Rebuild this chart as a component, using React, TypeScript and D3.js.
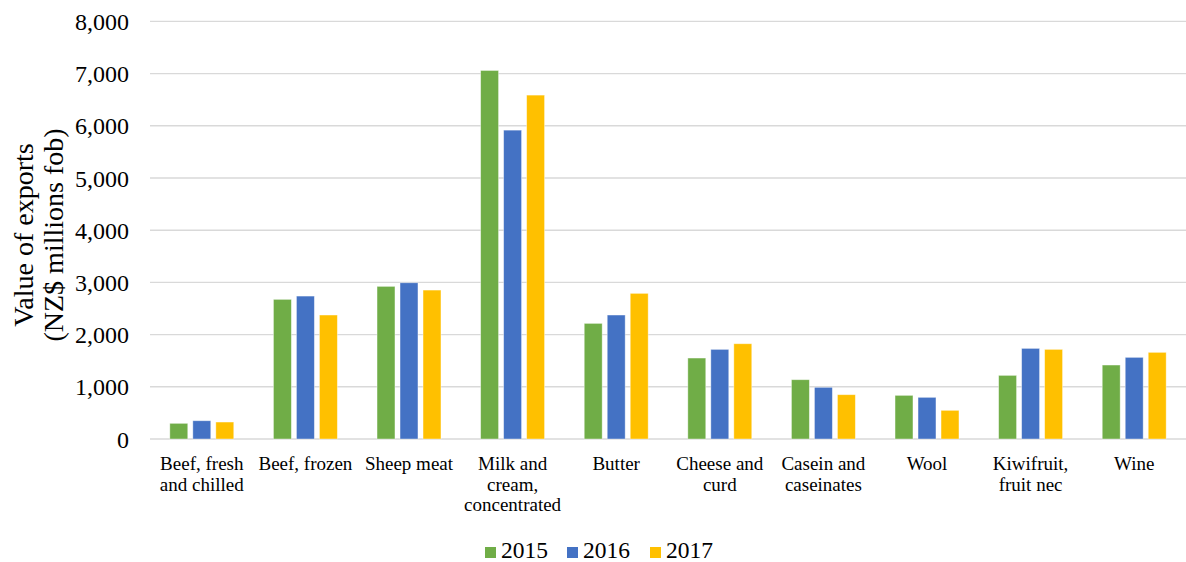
import React, { useEffect, useRef } from "react";
import * as d3 from "d3";

const categories = [
  "Beef, fresh and chilled",
  "Beef, frozen",
  "Sheep meat",
  "Milk and cream, concentrated",
  "Butter",
  "Cheese and curd",
  "Casein and caseinates",
  "Wool",
  "Kiwifruit, fruit nec",
  "Wine",
];
const seriesNames = ["2015", "2016", "2017"];
const values2015 = [300, 2675, 2924, 7060, 2215, 1551, 1136, 836, 1219, 1417];
const values2016 = [350, 2738, 2993, 5917, 2375, 1717, 990, 798, 1736, 1564];
const values2017 = [325, 2375, 2853, 6588, 2790, 1825, 849, 549, 1717, 1660];
const seriesColors = ["#70AD47", "#4472C4", "#FFC000"];
const yTicks = [0, 1000, 2000, 3000, 4000, 5000, 6000, 7000, 8000];

const W = 1186;
const H = 562;
const FONT = "Liberation Serif";

export default function App() {
  const ref = useRef<SVGSVGElement>(null);

  useEffect(() => {
    const svg = d3.select(ref.current);
    svg.selectAll("*").remove();
    const allValues = [values2015, values2016, values2017];

    const x0 = d3.scaleBand<string>().domain(categories).range([150, 1186]).padding(0);
    const x1 = d3
      .scaleBand<string>()
      .domain(seriesNames)
      .range([-34.5, 34.5])
      .paddingInner(0.22)
      .paddingOuter(0.11);
    const y = d3.scaleLinear().domain([0, 8000]).range([439, 21.4]);

    // gridlines
    svg
      .append("g")
      .selectAll("line")
      .data(yTicks)
      .join("line")
      .attr("x1", 150)
      .attr("x2", 1186)
      .attr("y1", (d) => y(d))
      .attr("y2", (d) => y(d))
      .attr("stroke", "#D9D9D9")
      .attr("stroke-width", 1.4);

    // tick labels
    svg
      .append("g")
      .selectAll("text")
      .data(yTicks)
      .join("text")
      .attr("x", 129)
      .attr("y", (d) => y(d) + 8.5)
      .attr("text-anchor", "end")
      .attr("font-family", FONT)
      .attr("font-size", 24)
      .attr("fill", "#000")
      .text((d) => d3.format(",")(d));

    // bars
    seriesNames.forEach((s, si) => {
      svg
        .append("g")
        .selectAll("rect")
        .data(allValues[si])
        .join("rect")
        .attr("x", (d, i) => (x0(categories[i]) as number) + x0.bandwidth() / 2 + (x1(s) as number))
        .attr("width", x1.bandwidth())
        .attr("y", (d) => y(d))
        .attr("height", (d) => y(0) - y(d))
        .attr("fill", seriesColors[si])
        .attr("stroke", "#ffffff")
        .attr("stroke-opacity", 0.5)
        .attr("stroke-width", 0.8);
    });

    // category labels with wrapping
    const lg = svg.append("g");
    categories.forEach((c) => {
      const cx = (x0(c) as number) + x0.bandwidth() / 2;
      const t = lg
        .append("text")
        .attr("x", cx)
        .attr("y", 470)
        .attr("text-anchor", "middle")
        .attr("font-family", FONT)
        .attr("font-size", 19)
        .attr("fill", "#000");
      const words = c.split(" ");
      let line: string[] = [];
      let tspan = t.append("tspan").attr("x", cx).attr("dy", 0);
      words.forEach((w) => {
        line.push(w);
        tspan.text(line.join(" "));
        const node = tspan.node() as SVGTSpanElement;
        if (node.getComputedTextLength() > 102 && line.length > 1) {
          line.pop();
          tspan.text(line.join(" "));
          line = [w];
          tspan = t.append("tspan").attr("x", cx).attr("dy", 20.5).text(w);
        }
      });
    });

    // y axis title
    const ty = svg
      .append("text")
      .attr("transform", `translate(0,235) rotate(-90)`)
      .attr("text-anchor", "middle")
      .attr("font-family", FONT)
      .attr("font-size", 28)
      .attr("fill", "#000");
    ty.append("tspan").attr("x", 0).attr("y", 33).text("Value of exports");
    ty.append("tspan").attr("x", 0).attr("y", 63).text("(NZ$ millions fob)");

    // legend
    const legendX = [485, 567, 650];
    const lgd = svg.append("g");
    seriesNames.forEach((s, i) => {
      lgd
        .append("rect")
        .attr("x", legendX[i])
        .attr("y", 547)
        .attr("width", 11)
        .attr("height", 11)
        .attr("fill", seriesColors[i]);
      lgd
        .append("text")
        .attr("x", legendX[i] + 16)
        .attr("y", 558)
        .attr("font-family", FONT)
        .attr("font-size", 23.5)
        .attr("fill", "#000")
        .text(s);
    });
  }, []);

  return (
    <svg
      ref={ref}
      width={W}
      height={H}
      fontFamily={FONT}
      style={{ position: "absolute", left: 0, top: 0, background: "#fff" }}
    />
  );
}
